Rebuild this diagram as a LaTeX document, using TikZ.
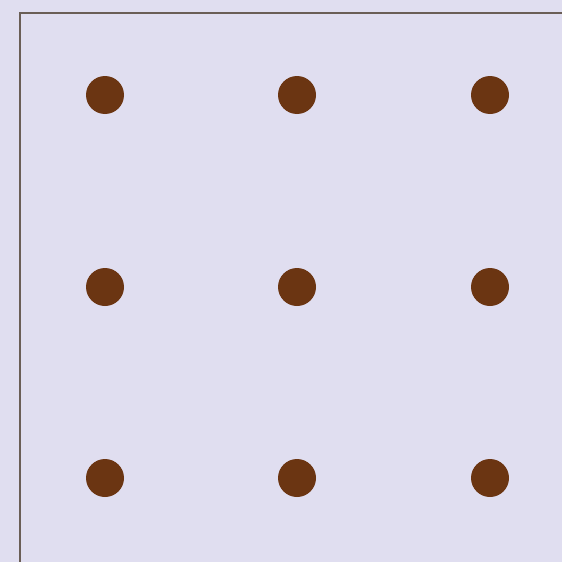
\documentclass[tikz,border=0pt]{standalone}
\definecolor{bgc}{HTML}{E0DEF0}
\definecolor{edge}{HTML}{6A5E56}
\definecolor{dotc}{HTML}{6B3512}
\begin{document}
\begin{tikzpicture}[x=1pt,y=-1pt,
  dotnode/.style={circle,fill=dotc,draw=none,minimum size=38pt,inner sep=0pt}]
\fill[bgc] (0,0) rectangle (562,562);
\useasboundingbox (0,0) rectangle (562,562);
\coordinate (tl) at (20,13);
\coordinate (tr) at (562,13);
\coordinate (bl) at (20,562);
\draw[edge,line width=2pt] (bl) -- (tl) -- (tr);
\node[dotnode] (d11) at (105,95) {};
\node[dotnode] (d12) at (297,95) {};
\node[dotnode] (d13) at (490,95) {};
\node[dotnode] (d21) at (105,287) {};
\node[dotnode] (d22) at (297,287) {};
\node[dotnode] (d23) at (490,287) {};
\node[dotnode] (d31) at (105,478) {};
\node[dotnode] (d32) at (297,478) {};
\node[dotnode] (d33) at (490,478) {};
\end{tikzpicture}
\end{document}
